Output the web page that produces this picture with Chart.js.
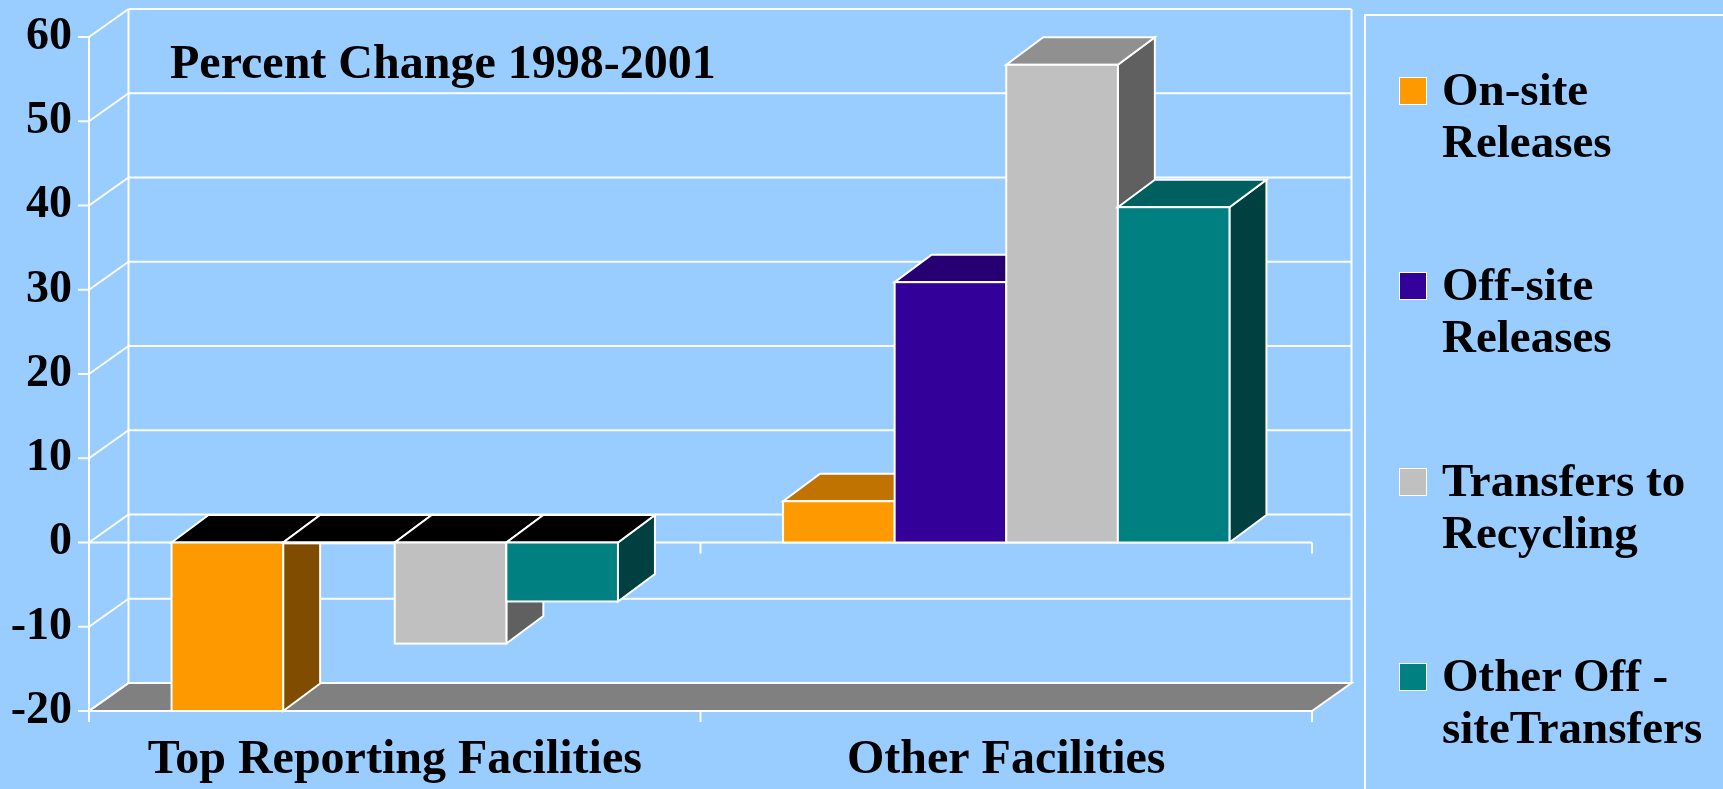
<!DOCTYPE html>
<html>
<head>
<meta charset="utf-8">
<script src="https://cdn.jsdelivr.net/npm/chart.js@4.4.1/dist/chart.umd.min.js"></script>
<style>
  html, body { margin: 0; padding: 0; background: #99CCFF; overflow: hidden; }
  #wrap { position: relative; width: 1723px; height: 789px; }
  #c { position: absolute; left: 0; top: 0; }
  .serif { font-family: "Liberation Serif", "Times New Roman", serif; font-weight: bold; color: #000; }
  #title { position: absolute; left: 170px; top: 38px; font-size: 48px; line-height: 48px; white-space: nowrap; }
  #legend { position: absolute; left: 1364px; top: 14px; width: 400px; height: 800px;
            border-left: 2px solid #fff; border-top: 2px solid #fff; box-sizing: border-box; }
  .swatch { position: absolute; left: 33px; width: 26px; height: 26px; border: 1px solid #fff; }
  .txt { position: absolute; left: 76px; font-size: 47px; line-height: 52px; white-space: nowrap; }
</style>
</head>
<body>
<div id="wrap">
  <canvas id="c" width="1723" height="789" style="width:1723px;height:789px"></canvas>
  <div id="title" class="serif">Percent Change 1998-2001</div>
  <div id="legend" class="serif"></div>
</div>
<script>
const categories = ['Top Reporting Facilities', 'Other Facilities']
const seriesNames = ['On-site\nReleases', 'Off-site\nReleases', 'Transfers to\nRecycling', 'Other Off -\nsiteTransfers']
const onSite         = [-20, 4.9]
const offSite        = [-0.1, 30.9]
const recycling      = [-12, 56.7]
const otherTransfers = [-7, 39.8]
const yMin = -20, yMax = 60, yStep = 10

// face colours: front / top / side
const frontColors = ['#FF9900', '#330099', '#C0C0C0', '#008080']
const topColors   = ['#C07300', '#260073', '#909090', '#006060']
const sideColors  = ['#7F4C00', '#1A004D', '#606060', '#004040']

const WALL = { dx: 39.5, dy: -28 }
const BAR  = { dx: 37,   dy: -27.5 }
const FONT = 'Liberation Serif'

function seg(ctx, x1, y1, x2, y2) {
  ctx.beginPath(); ctx.moveTo(x1, y1); ctx.lineTo(x2, y2); ctx.stroke()
}
function poly(ctx, pts, fill) {
  ctx.beginPath()
  ctx.moveTo(pts[0][0], pts[0][1])
  for (let i = 1; i < pts.length; i++) ctx.lineTo(pts[i][0], pts[i][1])
  ctx.closePath()
  if (fill) { ctx.fillStyle = fill; ctx.fill() }
  ctx.stroke()
}

// fake 3d: back wall, side wall, floor, then bars drawn left to right with depth faces
const box3d = {
  id: 'box3d',
  beforeDatasetsDraw(chart) {
    const { ctx, chartArea: a, scales: { x, y } } = chart
    const yT = y.getPixelForValue(y.max), yB = y.getPixelForValue(y.min)
    ctx.save()
    ctx.strokeStyle = '#fff'; ctx.lineWidth = 2
    poly(ctx, [[a.left, yB], [a.right, yB], [a.right + WALL.dx, yB + WALL.dy], [a.left + WALL.dx, yB + WALL.dy]], '#808080')
    y.ticks.forEach(t => {
      const py = y.getPixelForValue(t.value)
      seg(ctx, a.left + WALL.dx, py + WALL.dy, a.right + WALL.dx, py + WALL.dy)
      seg(ctx, a.left, py, a.left + WALL.dx, py + WALL.dy)
      seg(ctx, a.left - 11, py, a.left, py)
    })
    seg(ctx, a.left + WALL.dx, yT + WALL.dy, a.left + WALL.dx, yB + WALL.dy)
    seg(ctx, a.right + WALL.dx, yT + WALL.dy, a.right + WALL.dx, yB + WALL.dy)
    seg(ctx, a.left, yT, a.left, yB + 11)
    const mid = (x.getPixelForValue(0) + x.getPixelForValue(1)) / 2
    ;[0, y.min].forEach(v => {
      const py = y.getPixelForValue(v)
      seg(ctx, a.left, py, a.right, py)
      seg(ctx, mid, py, mid, py + 11)
      seg(ctx, a.right, py, a.right, py + 11)
    })
    ctx.restore()
  },
  beforeDatasetDraw() { return false },
  afterDatasetsDraw(chart) {
    const ctx = chart.ctx
    ctx.save()
    ctx.strokeStyle = '#fff'; ctx.lineWidth = 2
    chart.data.datasets.forEach((ds, i) => {
      chart.getDatasetMeta(i).data.forEach((bar, j) => {
        const { x, y, base, width } = bar.getProps(['x', 'y', 'base', 'width'], true)
        const l = x - width / 2, r = x + width / 2
        const top = Math.min(y, base), bot = Math.max(y, base)
        poly(ctx, [[r, top], [r + BAR.dx, top + BAR.dy], [r + BAR.dx, bot + BAR.dy], [r, bot]], sideColors[i])
        poly(ctx, [[l, top], [l + BAR.dx, top + BAR.dy], [r + BAR.dx, top + BAR.dy], [r, top]],
             ds.data[j] < 0 ? '#000' : topColors[i])
        bar.draw(ctx)
        ctx.strokeRect(l, top, width, bot - top)
      })
    })
    ctx.restore()
  }
}

const series = [onSite, offSite, recycling, otherTransfers]

new Chart(document.getElementById('c'), {
  type: 'bar',
  data: {
    labels: categories,
    datasets: series.map((d, i) => ({
      label: seriesNames[i], data: d, backgroundColor: frontColors[i], borderWidth: 0
    }))
  },
  options: {
    responsive: false,
    animation: false,
    devicePixelRatio: 1,
    events: [],
    layout: { padding: { left: 0, top: 37, right: 411, bottom: 0 } },
    datasets: { bar: { categoryPercentage: 0.73, barPercentage: 1 } },
    plugins: { legend: { display: false }, tooltip: { enabled: false } },
    scales: {
      x: {
        grid: { display: false, drawTicks: false }, border: { display: false },
        ticks: { color: '#000', padding: 21, font: { family: FONT, size: 48, weight: 'bold' } },
        afterFit: s => { s.height = 78; s.paddingLeft = 0; s.paddingRight = 0 }
      },
      y: {
        min: yMin, max: yMax,
        grid: { display: false, drawTicks: false }, border: { display: false },
        ticks: { stepSize: yStep, color: '#000', padding: 17, font: { family: FONT, size: 46, weight: 'bold' } },
        afterFit: s => { s.width = 89; s.paddingTop = 0; s.paddingBottom = 0 }
      }
    }
  },
  plugins: [box3d]
})

// html legend from the series names
const legend = document.getElementById('legend')
seriesNames.forEach((name, i) => {
  const off = 195.3 * i
  const sw = document.createElement('div')
  sw.className = 'swatch'
  sw.style.top = (61 + off) + 'px'
  sw.style.background = frontColors[i]
  const tx = document.createElement('div')
  tx.className = 'txt'
  tx.style.top = (47 + off) + 'px'
  tx.innerHTML = name.split('\n').join('<br>')
  legend.appendChild(sw)
  legend.appendChild(tx)
})
</script>
</body>
</html>
